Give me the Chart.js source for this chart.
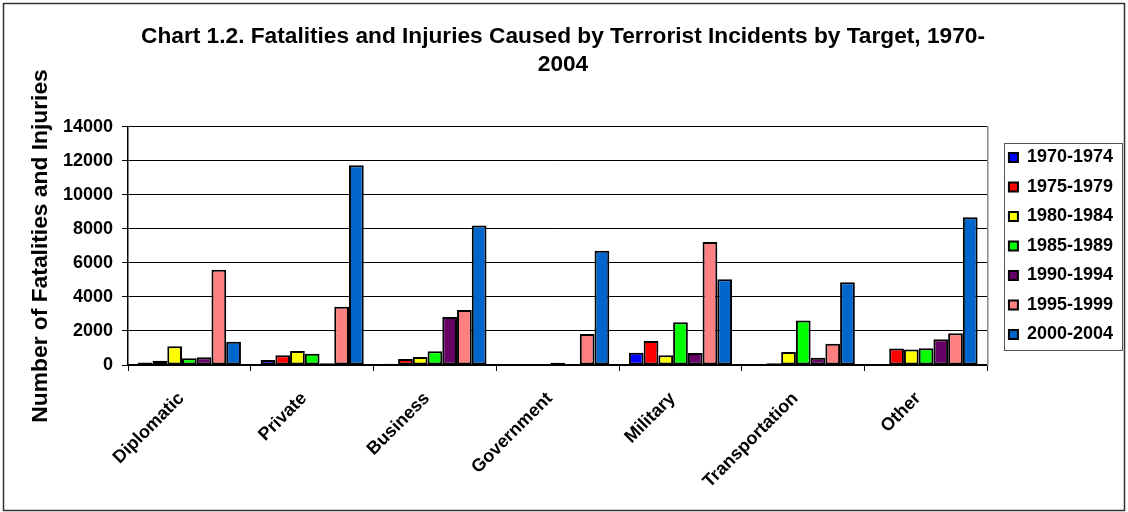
<!DOCTYPE html>
<html>
<head>
<meta charset="utf-8">
<script src="https://cdn.jsdelivr.net/npm/chart.js@4.4.0/dist/chart.umd.min.js"></script>
<style>
html, body { margin: 0; padding: 0; background: #fff; }
#wrap { width: 1128px; height: 512px; }
</style>
</head>
<body>
<div id="wrap"><canvas id="targetChart" width="1128" height="512"></canvas></div>
<script>
var targets = ['Diplomatic', 'Private', 'Business', 'Government', 'Military', 'Transportation', 'Other'];
var periods = ['1970-1974', '1975-1979', '1980-1984', '1985-1989', '1990-1994', '1995-1999', '2000-2004'];
var periodColors = ['#0000FF', '#FF0000', '#FFFF00', '#00FF00', '#660066', '#FF8080', '#0066CC'];

// fatalities + injuries
var v1970 = [150, 300, 80, 10, 720, 40, 50];
var v1975 = [250, 580, 350, 30, 1410, 100, 970];
var v1980 = [1100, 830, 470, 30, 580, 760, 910];
var v1985 = [400, 660, 810, 130, 2510, 2610, 990];
var v1990 = [460, 110, 2820, 20, 700, 430, 1510];
var v1995 = [5600, 3430, 3230, 1820, 7230, 1250, 1860];
var v2000 = [1370, 11740, 8200, 6720, 5040, 4860, 8680];

var yMin = 0, yMax = 14000, yStep = 2000;

var FONT = '"Liberation Sans", Arial, sans-serif';
Chart.defaults.font.family = FONT;
Chart.defaults.color = '#000';

var seriesValues = [v1970, v1975, v1980, v1985, v1990, v1995, v2000];
var datasets = periods.map(function(p, i){
	return {
		label: p,
		data: seriesValues[i],
		backgroundColor: periodColors[i],
		borderColor: '#000',
		borderWidth: 2,
		borderSkipped: false,
		categoryPercentage: 0.84,
		barPercentage: 1.0
	};
});

// white page, outer frame, legend frame, legend nudge
var framePlugin = {
	id: 'frame',
	afterLayout: function(chart){
		var lg = chart.legend;
		if (!lg) return;
		lg.top -= 13; lg.bottom -= 13;
		lg.left += 1; lg.right += 1;
	},
	beforeDraw: function(chart){
		var ctx = chart.ctx;
		ctx.save();
		ctx.fillStyle = '#fff';
		ctx.fillRect(0, 0, chart.width, chart.height);
		ctx.restore();
	},
	afterDraw: function(chart){
		var ctx = chart.ctx;
		ctx.save();
		ctx.strokeStyle = '#333';
		ctx.lineWidth = 1.5;
		ctx.strokeRect(3.5, 3.5, chart.width - 7, chart.height - 5);

		var lg = chart.legend;
		if (lg && lg.legendHitBoxes && lg.legendHitBoxes.length) {
			var hb = lg.legendHitBoxes;
			var first = hb[0], last = hb[hb.length - 1];
			var top = first.top - 6;
			var bottom = last.top + last.height + 6;
			ctx.strokeStyle = '#555';
			ctx.lineWidth = 1;
			ctx.strokeRect(1004.5, Math.round(top) + 0.5, 118, Math.round(bottom - top));
		}
		ctx.restore();
	}
};

var ctx = document.getElementById('targetChart').getContext('2d');
var targetChart = new Chart(ctx, {
	type: 'bar',
	data: { labels: targets, datasets: datasets },
	options: {
		responsive: false,
		animation: false,
		devicePixelRatio: 1,
		layout: { padding: { left: 4, right: 6, top: 6, bottom: 0 } },
		plugins: {
			title: {
				display: true,
				text: ['Chart 1.2. Fatalities and Injuries Caused by Terrorist Incidents by Target, 1970-', '2004'],
				font: { size: 22.7, weight: 'bold', lineHeight: 1.23 },
				color: '#000',
				padding: { top: 17, bottom: 48 }
			},
			legend: {
				position: 'right',
				labels: {
					boxWidth: 9,
					boxHeight: 9,
					padding: 11.5,
					color: '#000',
					font: { size: 18, weight: 'bold' }
				}
			},
			tooltip: { enabled: false }
		},
		scales: {
			x: {
				grid: {
					offset: true,
					drawOnChartArea: false,
					drawTicks: true,
					tickLength: 6,
					color: '#000'
				},
				border: { display: true, color: '#000', width: 1.5 },
				ticks: {
					autoSkip: false,
					minRotation: 45,
					maxRotation: 45,
					padding: 17,
					labelOffset: -8,
					color: '#000',
					font: { size: 18, weight: 'bold' }
				},
				afterFit: function(scale){ scale.height = 147; }
			},
			y: {
				min: yMin,
				max: yMax,
				ticks: {
					stepSize: yStep,
					padding: 9,
					color: '#000',
					font: { size: 18, weight: 'bold' },
					callback: function(v){ return String(v); }
				},
				grid: { color: '#000', lineWidth: 1, tickLength: 6 },
				border: { display: true, color: '#000', width: 1.5 },
				title: {
					display: true,
					text: 'Number of Fatalities and Injuries',
					color: '#000',
					font: { size: 22.8, weight: 'bold' },
					padding: { top: 23, bottom: 0 }
				},
				afterFit: function(scale){ scale.width = 124; }
			},
			yRight: {
				position: 'right',
				min: yMin,
				max: yMax,
				ticks: { display: false },
				grid: { drawOnChartArea: false, drawTicks: false },
				border: { display: true, color: '#888', width: 1.5 },
				afterFit: function(scale){ scale.width = 9; }
			}
		}
	},
	plugins: [framePlugin]
});
</script>
</body>
</html>
